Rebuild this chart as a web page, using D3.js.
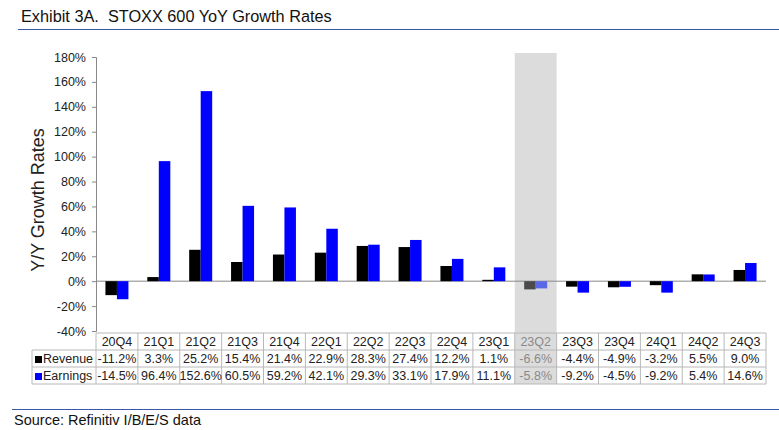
<!DOCTYPE html>
<html><head><meta charset="utf-8">
<script src="https://cdn.jsdelivr.net/npm/d3@7"></script>
<style>body{margin:0;background:#fff;} text{font-family:"Liberation Sans",Arial,sans-serif;}</style>
</head><body>
<svg id="c" width="779" height="430"></svg>
<script>
const categories = ["20Q4","21Q1","21Q2","21Q3","21Q4","22Q1","22Q2","22Q3","22Q4","23Q1","23Q2","23Q3","23Q4","24Q1","24Q2","24Q3"];
const revenue = [-11.2,3.3,25.2,15.4,21.4,22.9,28.3,27.4,12.2,1.1,-6.6,-4.4,-4.9,-3.2,5.5,9.0];
const earnings = [-14.5,96.4,152.6,60.5,59.2,42.1,29.3,33.1,17.9,11.1,-5.8,-9.2,-4.5,-9.2,5.4,14.6];
const yTicks = [-40,-20,0,20,40,60,80,100,120,140,160,180];
const highlight = "23Q2";
const seriesNames = ["Revenue","Earnings"];

const svg = d3.select("#c");
const x0 = 96, x1 = 766, yTop = 57, yBot = 331;
const x = d3.scaleBand().domain(categories).range([x0,x1]).padding(0);
const y = d3.scaleLinear().domain([-40,180]).range([yBot,yTop]);
const colors = ["#000000","#0000ff"];
const hlColors = ["#4a4a4a","#5a68e6"];
const rowH = 17, tTop = 333;

// title
svg.append("text").attr("x",21).attr("y",22).attr("font-size",16.3).attr("fill","#111").style("white-space","pre").text("Exhibit 3A.  STOXX 600 YoY Growth Rates");
svg.append("line").attr("x1",18).attr("x2",779).attr("y1",29.5).attr("y2",29.5).attr("stroke","#3a57a8").attr("stroke-width",1.2);

// highlight band
svg.append("rect").attr("x",x(highlight)).attr("width",x.bandwidth()).attr("y",53).attr("height",tTop+3*rowH-53).attr("fill","#dcdcdc");

// y axis
const ax = svg.append("g").attr("transform",`translate(${x0},0)`).call(d3.axisLeft(y).tickValues(yTicks).tickFormat(d=>d+"%").tickSize(4).tickSizeOuter(4));
ax.select(".domain").attr("stroke","#888");
ax.selectAll(".tick line").attr("stroke","#888");
ax.selectAll(".tick text").attr("font-size",12.5).attr("fill","#222").attr("font-family","Liberation Sans, Arial, sans-serif").attr("x",-10);

// zero line
svg.append("line").attr("x1",x0).attr("x2",x1).attr("y1",y(0)).attr("y2",y(0)).attr("stroke","#888");

// y label
svg.append("text").attr("transform",`translate(44,${(yTop+yBot)/2+6}) rotate(-90)`).attr("text-anchor","middle").attr("font-size",18).attr("fill","#222").text("Y/Y Growth Rates");

// bars
const bw = 11.5;
const data = [revenue, earnings];
data.forEach((vals,si)=>{
  svg.append("g").selectAll("rect").data(categories).join("rect")
    .attr("x",(d)=>x(d)+x.bandwidth()/2 - bw + si*bw)
    .attr("width",bw)
    .attr("y",(d,i)=>y(Math.max(0,vals[i])))
    .attr("height",(d,i)=>Math.abs(y(vals[i])-y(0)))
    .attr("fill",d=> d===highlight ? hlColors[si] : colors[si]);
});

// table
const tg = svg.append("g");
const lc = "#b8b8b8";
tg.append("line").attr("x1",x0).attr("x2",x1).attr("y1",tTop).attr("y2",tTop).attr("stroke",lc);
for(let r=1;r<=3;r++){
  tg.append("line").attr("x1",32).attr("x2",x1).attr("y1",tTop+r*rowH).attr("y2",tTop+r*rowH).attr("stroke",lc);
}
categories.forEach(c=>{
  tg.append("line").attr("x1",x(c)).attr("x2",x(c)).attr("y1",tTop).attr("y2",tTop+3*rowH).attr("stroke",lc);
});
tg.append("line").attr("x1",x1).attr("x2",x1).attr("y1",tTop).attr("y2",tTop+3*rowH).attr("stroke",lc);
tg.append("line").attr("x1",32).attr("x2",32).attr("y1",tTop+rowH).attr("y2",tTop+3*rowH).attr("stroke",lc);

const fmt = v => v.toFixed(1)+"%";
categories.forEach((c,i)=>{
  const cx = x(c)+x.bandwidth()/2;
  const col = c===highlight ? "#8a8a8a" : "#222";
  tg.append("text").attr("x",cx).attr("y",tTop+rowH-4).attr("text-anchor","middle").attr("font-size",12.5).attr("fill",col).text(c);
  tg.append("text").attr("x",cx).attr("y",tTop+2*rowH-4).attr("text-anchor","middle").attr("font-size",12.5).attr("fill",col).text(fmt(revenue[i]));
  tg.append("text").attr("x",cx).attr("y",tTop+3*rowH-4).attr("text-anchor","middle").attr("font-size",12.5).attr("fill",col).text(fmt(earnings[i]));
});
seriesNames.forEach((n,si)=>{
  const yy = tTop+(si+2)*rowH;
  tg.append("rect").attr("x",35).attr("y",yy-11).attr("width",7).attr("height",7).attr("fill",colors[si]);
  tg.append("text").attr("x",43).attr("y",yy-4).attr("font-size",12.5).attr("fill","#222").text(n);
});

// footer
svg.append("line").attr("x1",12).attr("x2",779).attr("y1",409.5).attr("y2",409.5).attr("stroke","#3a57a8").attr("stroke-width",1.2);
svg.append("text").attr("x",14).attr("y",425).attr("font-size",14.5).attr("fill","#111").text("Source: Refinitiv I/B/E/S data");
</script>
</body></html>
